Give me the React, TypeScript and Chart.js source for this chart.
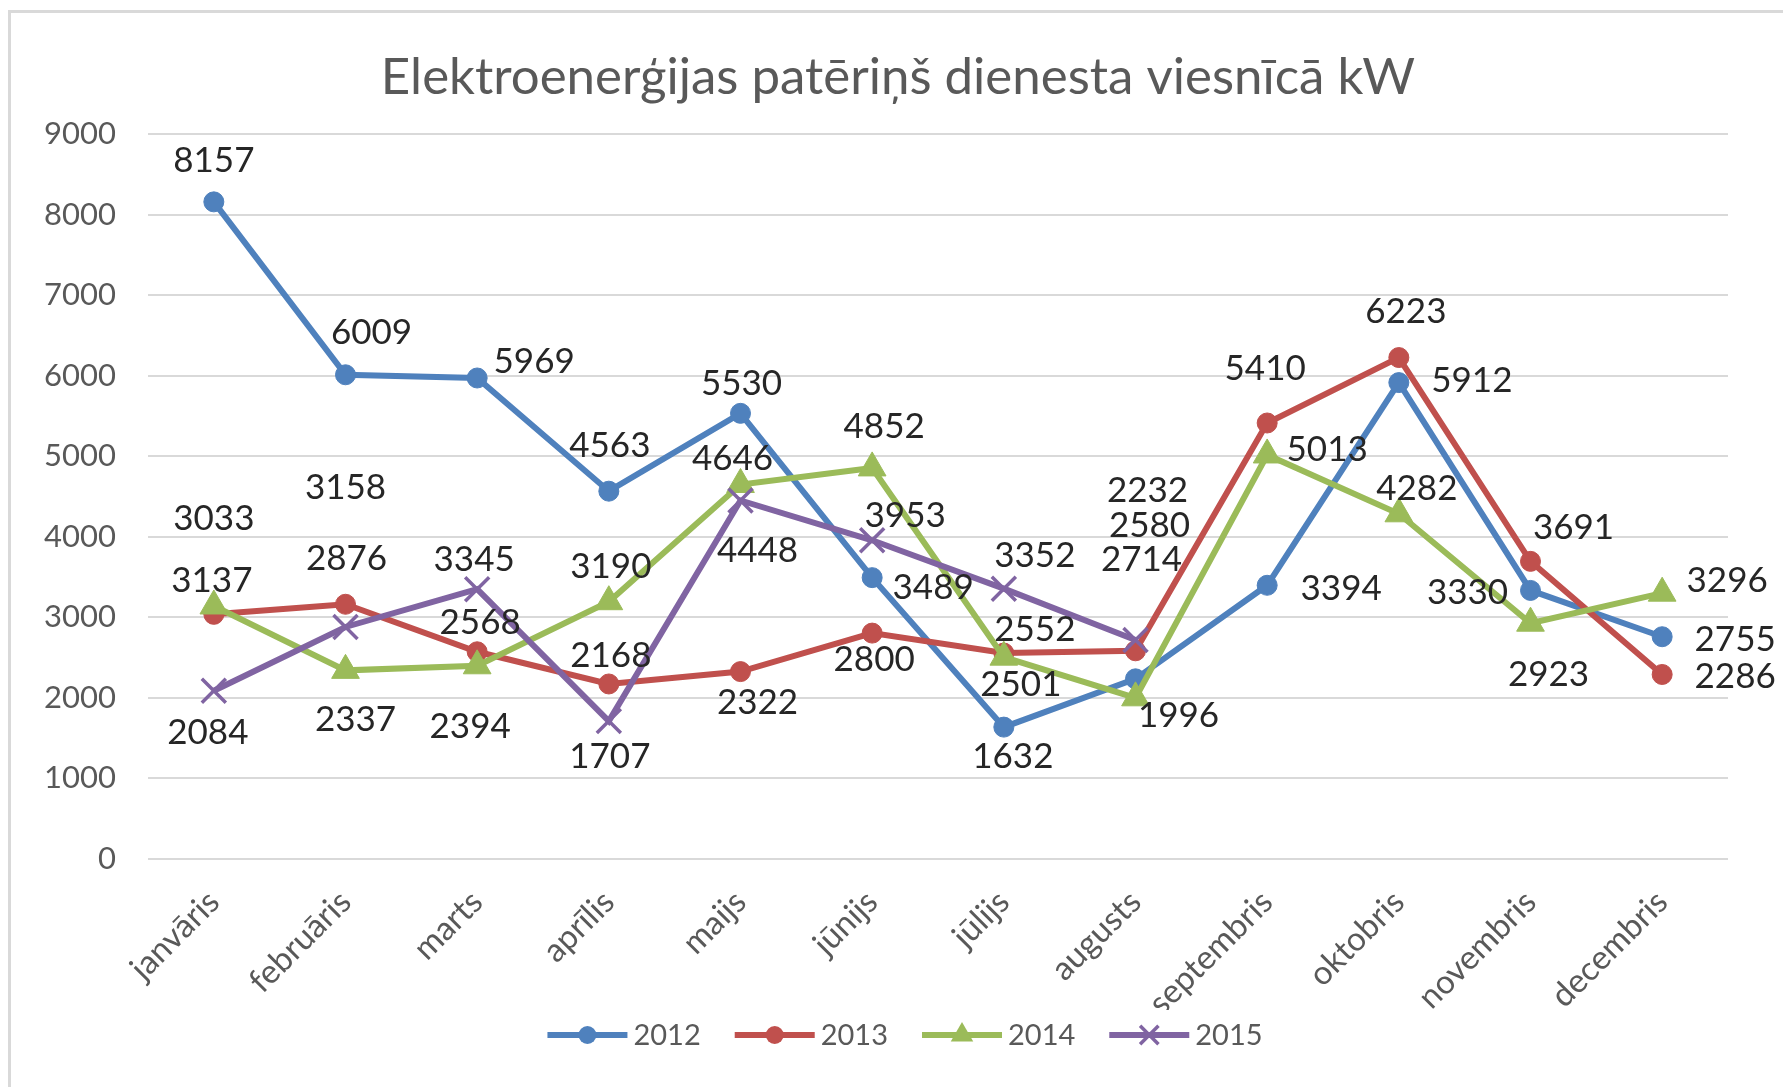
import React, { useEffect, useRef } from 'react';
import { Chart, registerables } from 'chart.js';

Chart.register(...registerables);

// ---- data ----
const months = ['janvāris', 'februāris', 'marts', 'aprīlis', 'maijs', 'jūnijs', 'jūlijs', 'augusts', 'septembris', 'oktobris', 'novembris', 'decembris'];
const seriesNames = ['2012', '2013', '2014', '2015'];
const values2012 = [8157, 6009, 5969, 4563, 5530, 3489, 1632, 2232, 3394, 5912, 3330, 2755];
const values2013 = [3033, 3158, 2568, 2168, 2322, 2800, 2552, 2580, 5410, 6223, 3691, 2286];
const values2014 = [3137, 2337, 2394, 3190, 4646, 4852, 2501, 1996, 5013, 4282, 2923, 3296];
const values2015 = [2084, 2876, 3345, 1707, 4448, 3953, 3352, 2714, null, null, null, null];
const yMin = 0;
const yMax = 9000;
const yStep = 1000;
const titleText = 'Elektroenerģijas patēriņš dienesta viesnīcā kW';

// ---- style ----
const FONT = "Lato, 'Noto Sans', 'DejaVu Sans', sans-serif";
const colors = ['#4F81BD', '#C0504D', '#9BBB59', '#8064A2'];
const pointStyles = ['circle', 'circle', 'triangle', 'crossRot'];
const pointRadii = [10, 10, 16, 17];

// data label offsets (pixels from the point), styling only
const labelOffsets = [
  [[0, -42], [26, -43], [57, -17], [1, -47], [1, -31], [61, 9], [9, 28], [12, -189], [74, 2], [73, -3], [-63, 1], [73, 2]],
  [[0, -97], [0, -118], [3, -30], [2, -29], [17, 30], [2, 25], [31, -25], [14, -126], [-2, -55], [7, -47], [43, -35], [73, 1]],
  [[-2, -26], [10, 48], [-7, 60], [2, -36], [-8, -27], [12, -42], [17, 26], [43, 17], [60, -6], [18, -26], [18, 50], [65, -14]],
  [[-6, 41], [1, -69], [-3, -31], [1, 34], [17, 49], [33, -26], [31, -34], [6, -82], [0, 0], [0, 0], [0, 0], [0, 0]],
];

const frameAndTitlePlugin = {
  id: 'frameAndTitle',
  beforeDraw(chart: any) {
    const ctx = chart.ctx;
    ctx.save();
    ctx.fillStyle = '#ffffff';
    ctx.fillRect(0, 0, chart.width, chart.height);
    ctx.strokeStyle = '#d9d9d9';
    ctx.lineWidth = 3;
    ctx.strokeRect(9.5, 11.5, chart.width + 20, chart.height + 20);
    ctx.fillStyle = '#595959';
    ctx.font = `51px ${FONT}`;
    ctx.textAlign = 'center';
    ctx.textBaseline = 'alphabetic';
    ctx.fillText(titleText, 898, 94);
    ctx.restore();
  },
};

const dataLabelPlugin = {
  id: 'dataLabels',
  afterDatasetsDraw(chart: any) {
    const ctx = chart.ctx;
    ctx.save();
    ctx.font = `35px ${FONT}`;
    ctx.fillStyle = '#262626';
    ctx.textAlign = 'center';
    ctx.textBaseline = 'alphabetic';
    chart.data.datasets.forEach((ds: any, di: number) => {
      const meta = chart.getDatasetMeta(di);
      meta.data.forEach((pt: any, i: number) => {
        const v = ds.data[i];
        if (v === null || v === undefined) return;
        const [dx, dy] = labelOffsets[di][i];
        ctx.fillText(String(v), pt.x + dx, pt.y + dy + 12.5);
      });
    });
    ctx.restore();
  },
};

function drawMarker(ctx: CanvasRenderingContext2D, style: string, x: number, y: number, r: number, color: string) {
  ctx.save();
  ctx.fillStyle = color;
  ctx.strokeStyle = color;
  ctx.beginPath();
  if (style === 'circle') {
    ctx.arc(x, y, r, 0, Math.PI * 2);
    ctx.fill();
  } else if (style === 'triangle') {
    for (let k = 0; k < 3; k++) {
      const a = (k * 2 * Math.PI) / 3;
      const px = x + Math.sin(a) * r;
      const py = y - Math.cos(a) * r;
      if (k === 0) ctx.moveTo(px, py);
      else ctx.lineTo(px, py);
    }
    ctx.closePath();
    ctx.fill();
  } else {
    const o = r * Math.SQRT1_2;
    ctx.lineWidth = 3.5;
    ctx.moveTo(x - o, y - o);
    ctx.lineTo(x + o, y + o);
    ctx.moveTo(x + o, y - o);
    ctx.lineTo(x - o, y + o);
    ctx.stroke();
  }
  ctx.restore();
}

const legendPlugin = {
  id: 'customLegend',
  afterDraw(chart: any) {
    const ctx = chart.ctx;
    ctx.save();
    ctx.font = `29px ${FONT}`;
    const lineLen = 80;
    const gapText = 6;
    const gapItem = 34;
    const items = chart.data.datasets.map((ds: any) => ({
      label: ds.label,
      color: ds.borderColor,
      style: ds.pointStyle,
      r: ds.pointRadius,
      w: ctx.measureText(ds.label).width,
    }));
    const total = items.reduce((s: number, it: any) => s + lineLen + gapText + it.w, 0) + gapItem * (items.length - 1);
    let x = 905 - total / 2;
    const y = 1035;
    items.forEach((it: any) => {
      ctx.strokeStyle = it.color;
      ctx.lineWidth = 6;
      ctx.beginPath();
      ctx.moveTo(x, y);
      ctx.lineTo(x + lineLen, y);
      ctx.stroke();
      const mr = it.style === 'circle' ? 9 : 13;
      drawMarker(ctx, it.style, x + lineLen / 2, y, mr, it.color);
      ctx.fillStyle = '#595959';
      ctx.textAlign = 'left';
      ctx.textBaseline = 'middle';
      ctx.fillText(it.label, x + lineLen + gapText, y + 1);
      x += lineLen + gapText + it.w + gapItem;
    });
    ctx.restore();
  },
};

export default function App() {
  const ref = useRef<HTMLCanvasElement | null>(null);

  useEffect(() => {
    if (!ref.current) return;
    const allValues = [values2012, values2013, values2014, values2015];
    const chart = new Chart(ref.current, {
      type: 'line',
      data: {
        labels: months,
        datasets: allValues.map((vals, i) => ({
          label: seriesNames[i],
          data: vals,
          borderColor: colors[i],
          backgroundColor: colors[i],
          borderWidth: 6,
          pointStyle: pointStyles[i],
          pointRadius: pointRadii[i],
          pointBorderWidth: pointStyles[i] === 'crossRot' ? 3.5 : 1,
          pointBackgroundColor: colors[i],
          pointBorderColor: colors[i],
          fill: false,
          tension: 0,
          spanGaps: false,
          order: 4 - i,
        })),
      },
      options: {
        responsive: false,
        animation: false,
        devicePixelRatio: 1,
        layout: { padding: { left: 10, right: 55, top: 134, bottom: 77 } },
        plugins: {
          legend: { display: false },
          tooltip: { enabled: false },
          title: { display: false },
        },
        scales: {
          x: {
            type: 'category',
            offset: true,
            grid: { display: false },
            border: { display: false },
            ticks: {
              color: '#595959',
              font: { family: FONT, size: 33 },
              maxRotation: 45,
              minRotation: 45,
              autoSkip: false,
              padding: 16,
            },
            afterFit(scale: any) {
              scale.height = 151.5;
            },
          },
          y: {
            min: yMin,
            max: yMax,
            ticks: {
              stepSize: yStep,
              color: '#595959',
              font: { family: FONT, size: 31 },
              padding: 32,
              callback: (value: any) => String(value),
            },
            grid: { color: '#d9d9d9', lineWidth: 2, drawTicks: false },
            border: { display: false },
            afterFit(scale: any) {
              scale.width = 138;
            },
          },
        },
      },
      plugins: [frameAndTitlePlugin, dataLabelPlugin, legendPlugin],
    });
    return () => chart.destroy();
  }, []);

  return (
    <div style={{ position: 'fixed', left: 0, top: 0, width: 1783, height: 1087, background: '#fff' }}>
      <canvas ref={ref} width={1783} height={1087} style={{ display: 'block', width: 1783, height: 1087 }} />
    </div>
  );
}
